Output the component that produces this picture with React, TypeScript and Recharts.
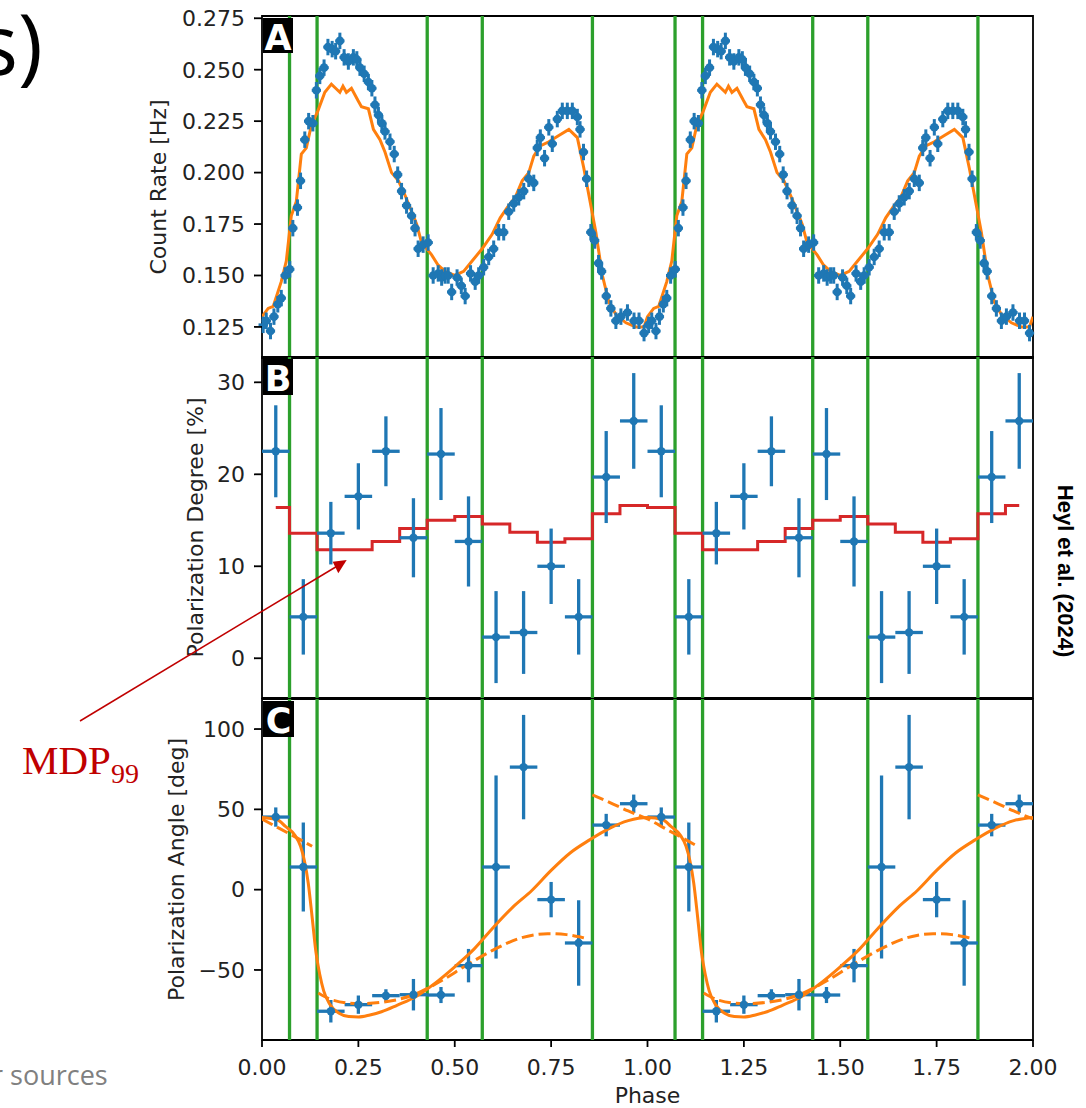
import React from 'react';
import {
  ComposedChart, Scatter, Line, XAxis, YAxis, ErrorBar, ReferenceLine, ReferenceArea,
} from 'recharts';

// ---- data (one rotation, phase 0..1; the figure shows it folded twice) ----

// panel A: observed count rate [phase, Hz]
const countRate: [number, number][] = [
  [0.003, 0.126], [0.011, 0.128], [0.022, 0.123], [0.031, 0.130], [0.041, 0.136], [0.050, 0.139],
  [0.060, 0.150], [0.072, 0.153], [0.080, 0.173], [0.092, 0.183], [0.100, 0.196], [0.111, 0.216],
  [0.121, 0.225], [0.132, 0.224], [0.141, 0.240], [0.150, 0.247], [0.161, 0.251], [0.171, 0.261],
  [0.182, 0.260], [0.191, 0.259], [0.202, 0.264], [0.213, 0.256], [0.224, 0.254], [0.237, 0.256],
  [0.246, 0.255], [0.254, 0.251], [0.265, 0.248], [0.276, 0.244], [0.285, 0.241], [0.293, 0.233],
  [0.302, 0.228], [0.311, 0.224], [0.319, 0.220], [0.332, 0.215], [0.343, 0.209], [0.352, 0.199],
  [0.362, 0.191], [0.375, 0.184], [0.388, 0.179], [0.397, 0.173], [0.405, 0.163], [0.418, 0.165],
  [0.431, 0.166], [0.444, 0.150], [0.457, 0.151], [0.466, 0.149], [0.475, 0.150], [0.483, 0.150],
  [0.492, 0.142], [0.506, 0.149], [0.517, 0.145], [0.527, 0.140], [0.541, 0.151], [0.553, 0.147],
  [0.562, 0.150], [0.575, 0.154], [0.588, 0.159], [0.601, 0.163], [0.614, 0.171], [0.627, 0.171],
  [0.640, 0.181], [0.653, 0.185], [0.666, 0.188], [0.679, 0.191], [0.692, 0.197], [0.705, 0.195],
  [0.714, 0.212], [0.722, 0.217], [0.733, 0.207], [0.744, 0.222], [0.753, 0.214], [0.766, 0.226],
  [0.779, 0.230], [0.792, 0.230], [0.805, 0.230], [0.818, 0.227], [0.825, 0.221], [0.834, 0.210],
  [0.842, 0.197], [0.853, 0.171], [0.863, 0.167], [0.873, 0.156], [0.881, 0.152], [0.893, 0.140],
  [0.905, 0.134], [0.918, 0.128], [0.931, 0.130], [0.948, 0.132], [0.965, 0.128], [0.978, 0.128],
  [0.991, 0.122],
];
const countRateErr = { phase: 0.012, rate: 0.004 };

// panel A: model light curve [phase, Hz]
const countModel: [number, number][] = [
  [0.000, 0.130], [0.016, 0.134], [0.029, 0.135], [0.050, 0.147], [0.063, 0.157], [0.076, 0.179],
  [0.089, 0.186], [0.102, 0.209], [0.115, 0.212], [0.128, 0.223], [0.145, 0.230], [0.163, 0.239],
  [0.180, 0.243], [0.191, 0.241], [0.202, 0.239], [0.210, 0.242], [0.219, 0.239], [0.232, 0.241],
  [0.249, 0.235], [0.258, 0.232], [0.276, 0.231], [0.289, 0.221], [0.306, 0.216], [0.319, 0.210],
  [0.336, 0.200], [0.354, 0.196], [0.371, 0.189], [0.384, 0.183], [0.401, 0.175], [0.414, 0.166],
  [0.440, 0.160], [0.457, 0.155], [0.475, 0.152], [0.500, 0.150], [0.523, 0.152], [0.545, 0.157],
  [0.571, 0.163], [0.597, 0.170], [0.618, 0.178], [0.636, 0.183], [0.657, 0.188], [0.675, 0.196],
  [0.692, 0.200], [0.705, 0.208], [0.722, 0.213], [0.744, 0.215], [0.770, 0.218], [0.796, 0.221],
  [0.818, 0.217], [0.835, 0.202], [0.848, 0.189], [0.866, 0.171], [0.883, 0.150], [0.900, 0.137],
  [0.918, 0.131], [0.944, 0.127], [0.970, 0.125], [0.991, 0.125],
];

// panels B and C: 14 phase bins
const N_BINS = 14;
const polDegree = [22.5, 4.5, 13.6, 17.6, 22.5, 13.1, 22.2, 12.7, 2.3, 2.8, 10.0, 4.5, 19.7, 25.8];
const polDegreeErr = [5.0, 4.1, 3.4, 3.6, 3.8, 4.3, 5.0, 4.9, 5.0, 4.5, 4.1, 4.1, 5.0, 5.2];
const mdp99 = [16.4, 13.6, 11.8, 11.8, 12.7, 14.1, 15.0, 15.4, 14.6, 13.7, 12.6, 13.0, 15.7, 16.6];
const polAngle = [45.2, 14.1, -75.7, -71.6, -66.0, -65.4, -65.6, -47.3, 14.1, 76.3, -6.2, -33.2, 40.2, 53.5];
const polAngleErr = [6.0, 27.7, 7.0, 5.7, 4.0, 9.8, 5.0, 10.4, 57.0, 32.5, 11.0, 26.6, 7.0, 5.7];

// panel C: RVM fit (solid) and piecewise fits (dashed)
const angleModel: [number, number][] = [
  [0.000, 45.0], [0.040, 43.5], [0.060, 39.5], [0.085, 34.0], [0.100, 27.0], [0.110, 18.0],
  [0.120, 4.0], [0.130, -17.0], [0.140, -39.0], [0.150, -53.0], [0.160, -63.0], [0.175, -71.0],
  [0.200, -77.0], [0.225, -79.0], [0.250, -79.3], [0.280, -78.0], [0.310, -76.0], [0.350, -72.0],
  [0.400, -66.5], [0.450, -58.0], [0.500, -48.0], [0.550, -37.0], [0.600, -23.5], [0.650, -11.0],
  [0.700, -0.5], [0.750, 12.0], [0.800, 23.0], [0.850, 31.0], [0.900, 38.0], [0.950, 43.0],
];
const dashedMain: [number, number][] = [
  [0.146, -64.3], [0.186, -68.9], [0.250, -71.0], [0.314, -70.0], [0.394, -65.4], [0.463, -57.0],
  [0.533, -46.7], [0.602, -37.3], [0.672, -30.0], [0.741, -27.4], [0.790, -28.0], [0.835, -30.0],
];
const dashedWrap: [number, number][] = [
  [0.857, 59.0], [0.900, 54.5], [0.950, 49.0], [1.000, 44.0], [1.050, 37.5], [1.100, 31.0], [1.130, 27.0],
];

// green phase-region boundaries
const boundaries = [1 / 14, 2 / 14, 6 / 14, 8 / 14, 12 / 14];

const phaseTicks = [0, 0.25, 0.5, 0.75, 1, 1.25, 1.5, 1.75, 2];
const rateTicks = [0.125, 0.15, 0.175, 0.2, 0.225, 0.25, 0.275];
const degreeTicks = [0, 10, 20, 30];
const angleTicks = [-50, 0, 50, 100];

// ---- tables for recharts ----
const twice = (pts: [number, number][]) => [...pts, ...pts.map(([p, v]) => [p + 1, v] as [number, number])];
const closed = (pts: [number, number][]) => [...twice(pts), [2, pts[0][1]] as [number, number]];

const rateTable = twice(countRate).map(([phase, rate]) => ({
  phase, rate, ex: countRateErr.phase, ey: countRateErr.rate,
}));
const rateModelTable = closed(countModel).map(([phase, rate]) => ({ phase, rate }));

const binRows = (vals: number[], errs: number[] | null) =>
  [0, 1].flatMap((c) => vals.map((v, k) => ({
    phase: c + (k + 0.5) / N_BINS, val: v, ex: 0.5 / N_BINS, ey: errs ? errs[k] : 0,
  })));
const degreeTable = binRows(polDegree, polDegreeErr);
const mdpTable = binRows(mdp99, null).map(({ phase, val }) => ({ phase, mdp: val }));
const angleTable = binRows(polAngle, polAngleErr);
const angleModelTable = closed(angleModel).map(([phase, v]) => ({ phase, model: v }));

const dashSegments: [number, number][][] = [
  dashedWrap.filter(([p]) => p >= 1).map(([p, v]) => [p - 1, v] as [number, number]),
  dashedMain,
  dashedWrap,
  dashedMain.map(([p, v]) => [p + 1, v] as [number, number]),
  dashedWrap.filter(([p]) => p <= 1).map(([p, v]) => [p + 1, v] as [number, number]),
];
const dashedTable = dashSegments.flatMap((seg, i) => {
  const rows = seg.map(([phase, v]) => ({ phase, fit: v as number | null }));
  if (i < dashSegments.length - 1) rows.push({ phase: seg[seg.length - 1][0] + 0.005, fit: null });
  return rows;
});

// ---- styles ----
const FONT = 'DejaVu Sans, sans-serif';
const BLUE = '#1f77b4';
const ORANGE = '#ff7f0e';
const GREEN = '#2ca02c';
const RED = '#d62728';
const INK = '#222';

const RATE_DOMAIN: [number, number] = [0.1099, 0.2761];
const DEGREE_DOMAIN: [number, number] = [-4.32, 32.75];
const ANGLE_DOMAIN: [number, number] = [-93.6, 118.7];

const tickStyle = { fontSize: 22, fill: INK, fontFamily: FONT };
const yLabel = (value: string, offset: number) => ({
  value, angle: -90, position: 'insideLeft', offset, textAnchor: 'middle',
  style: { textAnchor: 'middle', fontSize: 22, fill: INK, fontFamily: FONT },
});
const margin = (top: number, bottom: number) => ({ top, right: 53, bottom, left: 142 });
const minus = (v: number) => (v < 0 ? `\u2212${Math.abs(v)}` : `${v}`);

const dot = (r: number) => (p: any) =>
  p.cx == null ? <g /> : <circle cx={p.cx} cy={p.cy} r={r} fill={BLUE} />;

const yAxisProps = {
  type: 'number' as const,
  width: 120,
  tickSize: 8,
  tickMargin: 9,
  axisLine: false,
  tickLine: { stroke: '#000', strokeWidth: 1.8 },
  tick: tickStyle,
  allowDataOverflow: true,
  interval: 0 as const,
};

const greenLines = [0, 1].flatMap((c) => boundaries.map((b) => c + b));

const Frame = ({ domain }: { domain: [number, number] }) => (
  <ReferenceArea x1={0} x2={2} y1={domain[0]} y2={domain[1]} fill="none" stroke="#000" strokeWidth={1.8} />
);

export default function App() {
  return (
    <div style={{ position: 'absolute', left: 0, top: 0, width: 1086, height: 1108, background: '#fff', fontFamily: FONT, overflow: 'hidden' }}>
      {/* A: count rate */}
      <div style={{ position: 'absolute', left: 0, top: 0 }}>
        <ComposedChart width={1086} height={368} margin={margin(16, 10)}>
          <XAxis type="number" dataKey="phase" domain={[0, 2]} ticks={phaseTicks} hide allowDataOverflow />
          <YAxis {...yAxisProps} domain={RATE_DOMAIN} ticks={rateTicks}
            tickFormatter={(v: number) => v.toFixed(3)} label={yLabel('Count Rate [Hz]', 16)} />
          {greenLines.map((x) => <ReferenceLine key={x} x={x} stroke={GREEN} strokeWidth={3.3} />)}
          <Line data={rateModelTable} dataKey="rate" type="linear" stroke={ORANGE} strokeWidth={3}
            dot={false} isAnimationActive={false} />
          <Scatter data={rateTable} dataKey="rate" fill={BLUE} shape={dot(4.3)} isAnimationActive={false}>
            <ErrorBar dataKey="ex" direction="x" width={0} stroke={BLUE} strokeWidth={3} isAnimationActive={false} />
            <ErrorBar dataKey="ey" direction="y" width={0} stroke={BLUE} strokeWidth={3} isAnimationActive={false} />
          </Scatter>
          <Frame domain={RATE_DOMAIN} />
        </ComposedChart>
      </div>

      {/* B: polarization degree */}
      <div style={{ position: 'absolute', left: 0, top: 337 }}>
        <ComposedChart width={1086} height={371} margin={margin(20, 10)}>
          <XAxis type="number" dataKey="phase" domain={[0, 2]} ticks={phaseTicks} hide allowDataOverflow />
          <YAxis {...yAxisProps} domain={DEGREE_DOMAIN} ticks={degreeTicks}
            label={yLabel('Polarization Degree [%]', 53)} />
          {greenLines.map((x) => <ReferenceLine key={x} x={x} stroke={GREEN} strokeWidth={3.3} />)}
          <Line data={mdpTable} dataKey="mdp" type="step" stroke={RED} strokeWidth={3}
            dot={false} isAnimationActive={false} />
          <Scatter data={degreeTable} dataKey="val" fill={BLUE} shape={dot(4.2)} isAnimationActive={false}>
            <ErrorBar dataKey="ex" direction="x" width={0} stroke={BLUE} strokeWidth={3.3} isAnimationActive={false} />
            <ErrorBar dataKey="ey" direction="y" width={0} stroke={BLUE} strokeWidth={3.3} isAnimationActive={false} />
          </Scatter>
          <Frame domain={DEGREE_DOMAIN} />
        </ComposedChart>
      </div>

      {/* C: polarization angle */}
      <div style={{ position: 'absolute', left: 0, top: 679 }}>
        <ComposedChart width={1086} height={429} margin={margin(20, 5)}>
          <XAxis type="number" dataKey="phase" domain={[0, 2]} ticks={phaseTicks} interval={0}
            tickFormatter={(v: number) => v.toFixed(2)} height={63} tickSize={7} tickMargin={12}
            axisLine={false} tickLine={{ stroke: '#000', strokeWidth: 1.8 }} tick={tickStyle} allowDataOverflow
            label={{ value: 'Phase', position: 'insideBottom', offset: 0, style: { fontSize: 22, fill: INK, fontFamily: FONT } }} />
          <YAxis {...yAxisProps} domain={ANGLE_DOMAIN} ticks={angleTicks} tickFormatter={minus}
            label={yLabel('Polarization Angle [deg]', 34)} />
          {greenLines.map((x) => <ReferenceLine key={x} x={x} stroke={GREEN} strokeWidth={3.3} />)}
          <Scatter data={angleTable} dataKey="val" fill={BLUE} shape={dot(4.2)} isAnimationActive={false}>
            <ErrorBar dataKey="ex" direction="x" width={0} stroke={BLUE} strokeWidth={3.3} isAnimationActive={false} />
            <ErrorBar dataKey="ey" direction="y" width={0} stroke={BLUE} strokeWidth={3.3} isAnimationActive={false} />
          </Scatter>
          <Line data={angleModelTable} dataKey="model" type="monotone" stroke={ORANGE} strokeWidth={3}
            dot={false} isAnimationActive={false} />
          <Line data={dashedTable} dataKey="fit" type="monotone" stroke={ORANGE} strokeWidth={3}
            strokeDasharray="12 5" dot={false} connectNulls={false} isAnimationActive={false} />
          <Frame domain={ANGLE_DOMAIN} />
        </ComposedChart>
      </div>

      {/* slide annotations */}
      <svg width={1086} height={1108} style={{ position: 'absolute', left: 0, top: 0, pointerEvents: 'none' }}>
        <text x={-22} y={75} fontSize={84} fontFamily="Open Sans, sans-serif" fill="#000">s)</text>

        <rect x={263} y={18} width={30} height={35} fill="#000" />
        <text x={278} y={50} textAnchor="middle" fontSize={35} fontWeight="bold" fontFamily={FONT} fill="#fff">A</text>
        <rect x={263} y={359} width={30} height={36} fill="#000" />
        <text x={278} y={391} textAnchor="middle" fontSize={35} fontWeight="bold" fontFamily={FONT} fill="#fff">B</text>
        <rect x={263} y={701} width={31} height={36} fill="#000" />
        <text x={278.5} y={733} textAnchor="middle" fontSize={35} fontWeight="bold" fontFamily={FONT} fill="#fff">C</text>

        <line x1={80} y1={721} x2={339} y2={565} stroke="#c00000" strokeWidth={1.5} />
        <polygon points="346.7,560 332.7,561.7 338.3,573.3" fill="#c00000" />
        <text x={22} y={774} fontSize={41} fontFamily="Liberation Serif, serif" fill="#c00000">
          MDP<tspan fontSize={28} dy={9}>99</tspan>
        </text>

        <text x={1065} y={571} transform="rotate(90 1065 571)" textAnchor="middle" dominantBaseline="central"
          fontSize={22} fontWeight="bold" fontFamily="Liberation Sans, Arial, sans-serif" fill="#000">
          Heyl et al. (2024)
        </text>

        <text x={-8} y={1085} fontSize={27} fontFamily="Open Sans, sans-serif" fill="#808080">r sources</text>
      </svg>
    </div>
  );
}
